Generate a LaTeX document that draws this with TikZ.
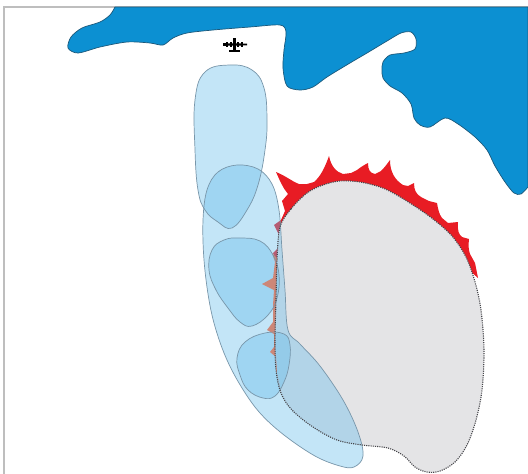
\documentclass[tikz,border=0pt]{standalone}
\definecolor{waterblue}{RGB}{12,144,210}
\definecolor{watershore}{RGB}{28,88,122}
\definecolor{dropblue}{RGB}{105,190,235}
\definecolor{dropedge}{RGB}{120,150,170}
\definecolor{burntgray}{RGB}{228,228,230}
\definecolor{perimeter}{RGB}{70,70,75}
\definecolor{firered}{RGB}{232,28,36}
\definecolor{coveredfire}{RGB}{205,135,120}
\definecolor{framegray}{RGB}{190,190,190}

% outlines of the retardant drops
\def\dropA{plot[smooth cycle, tension=0.7] coordinates {
  (230,65) (252,70) (264,88) (267,120) (265,150) (258,185) (247,210)
  (232,228) (218,222) (205,210) (198,190) (195,150) (195,100) (205,72)}}
\def\dropB{plot[smooth cycle, tension=0.6] coordinates {
  (237,165) (258,169) (272,184) (279,210) (282,250) (285,290) (288,330)
  (300,344) (320,366) (343,400) (358,432) (363,456) (354,467) (340,466)
  (315,456) (284,435) (260,413) (242,388) (227,360) (216,330) (209,300)
  (204,260) (203,220) (207,190) (218,172)}}
\def\dropC{plot[smooth cycle, tension=0.7] coordinates {
  (240,238) (260,241) (273,255) (279,275) (277,298) (268,315) (252,326)
  (240,322) (228,308) (216,290) (209,270) (212,250) (224,240)}}
\def\dropD{plot[smooth cycle, tension=0.7] coordinates {
  (265,333) (284,334) (290,345) (289,365) (284,382) (275,396) (263,398)
  (248,390) (240,375) (237,358) (245,342)}}
% fire perimeter
\def\burnt{plot[smooth cycle, tension=0.55] coordinates {
  (280,227) (291,209) (307,193) (323,185) (340,181) (360,182) (380,187)
  (395,194) (413,205) (433,219) (452,236) (466,257) (475,282) (481,310)
  (484,350) (482,390) (476,420) (467,445) (455,462) (440,471) (427,472)
  (415,467) (404,456) (388,448) (362,445) (337,440) (313,427) (292,410)
  (281,393) (276,370) (275,340) (276,300) (277,260)}}

\begin{document}
\begin{tikzpicture}[x=1pt,y=-1pt,
  water/.style={fill=waterblue, draw=watershore, line width=0.7pt, line join=round},
  dropfill/.style={fill=dropblue, fill opacity=0.4},
  dropline/.style={draw=dropedge, line width=0.7pt},
  burntfill/.style={fill=burntgray},
  burntline/.style={draw=perimeter, line width=1.1pt, dash pattern=on 1.1pt off 1.1pt},
  flame/.style={fill=firered, line join=round},
  hiddenflame/.style={fill=coveredfire, line join=round},
  plane/.style={fill=black},
]
\useasboundingbox (0,0) rectangle (528,474);
\fill[white] (0,0) rectangle (528,474);

% map frame
\draw[framegray, line width=1.2pt] (4,474) -- (4,7) -- (528,7);

% lake shoreline
\draw[water] plot[smooth, tension=0.5] coordinates {
  (115,7) (110,15) (100,22) (82,28) (71,37) (68,48) (78,53) (100,47) (127,42)
  (150,43) (163,45) (173,38) (187,33) (213,30) (250,27) (280,25) (286,32)
  (284,50) (283,68) (287,86) (300,90) (313,87) (327,77) (350,63) (367,53)
  (387,41) (401,33) (411,32) (416,39) (415,49) (404,53) (390,55) (383,62)
  (382,70) (383,78) (390,86) (402,93) (411,104) (414,118) (420,125) (430,127)
  (445,118) (458,124) (475,137) (487,150) (495,166) (505,182) (514,193)
  (521,194) (528,187)}
  -- (528,7) -- cycle;

% active fire front
\fill[flame] (277,262) -- (273,253) -- (279,247) -- (280,237) -- (274,225)
  -- (281,220) -- (285,211) -- (282,201) -- (288,194)
  .. controls (283,188) and (280,181) .. (276,172)
  .. controls (286,176) and (293,182) .. (299,184)
  -- (307,184) -- (314,182)
  .. controls (321,176) and (325,167) .. (329,156)
  .. controls (331,166) and (336,172) .. (343,174)
  -- (351,173) -- (357,170)
  .. controls (361,167) and (364,165) .. (368,163)
  .. controls (368,170) and (370,173) .. (375,174)
  -- (381,171)
  .. controls (385,167) and (387,164) .. (390,160)
  .. controls (390,172) and (395,180) .. (403,185)
  -- (408,186) -- (414,183)
  .. controls (414,190) and (416,194) .. (421,197)
  -- (429,201) -- (437,203)
  .. controls (438,209) and (439,214) .. (442,218)
  -- (448,223) -- (458,222)
  .. controls (457,230) and (459,235) .. (462,237)
  -- (469,239)
  .. controls (468,246) and (469,251) .. (470,254)
  -- (475,263) -- (478,278)
  -- (460,262) -- (400,230) -- (330,220) -- (292,245) -- (285,262) -- cycle;

% burnt area
\fill[burntfill] \burnt;

% retardant drops
\fill[dropfill] \dropA;
\fill[dropfill] \dropB;
\fill[dropfill] \dropC;
\fill[dropfill] \dropD;

% flank of the fire under the retardant
\fill[hiddenflame] (277,258) -- (272,253) -- (275,262) -- (273,278)
  -- (262,284) -- (274,290) -- (273,305) -- (273,322) -- (267,330)
  -- (274,334) -- (274,347) -- (270,352) -- (276,357) -- (277,374)
  -- (281,392) -- (276,370) -- (275,340) -- (276,300) -- (277,262) -- cycle;

\draw[dropline] \dropA;
\draw[dropline] \dropB;
\draw[dropline] \dropC;
\draw[dropline] \dropD;

% dotted fire perimeter
\draw[burntline] \burnt;

% air tanker
\fill[plane] (223,43.2) -- (247,43.6) -- (247,45.4) -- (223,45.8) -- cycle;
\fill[plane] (233,37.5) rectangle (235.8,51.5);
\fill[plane] (229,49.6) rectangle (239.5,51.8);
\foreach \ex in {227,231,238,242}
  \fill[plane] (\ex-0.9,41.5) rectangle (\ex+0.9,47);
\end{tikzpicture}
\end{document}
